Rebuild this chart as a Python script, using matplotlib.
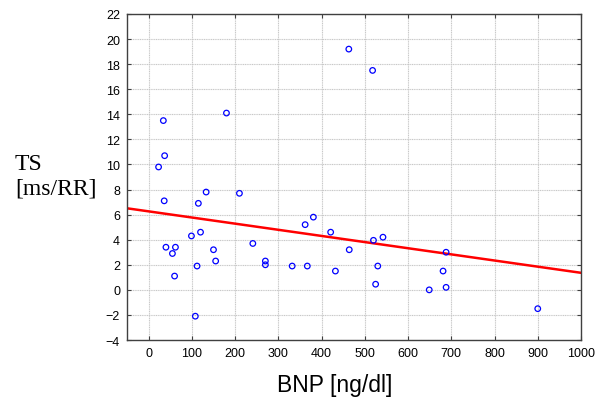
import matplotlib
matplotlib.use("Agg")
import matplotlib.pyplot as plt
import numpy as np

# BNP [ng/dl] vs TS [ms/RR]
bnp = [23, 34, 37, 180, 463, 518, 36, 40, 55, 62, 60, 99, 115, 133, 120, 112,
       108, 150, 155, 210, 241, 270, 270, 332, 367, 362, 381, 421, 432, 464,
       520, 542, 530, 525, 688, 681, 688, 649, 900]
ts = [9.8, 13.5, 10.7, 14.1, 19.2, 17.5, 7.1, 3.4, 2.9, 3.4, 1.1, 4.3, 6.9, 7.8,
      4.6, 1.9, -2.1, 3.2, 2.3, 7.7, 3.7, 2.3, 2.0, 1.9, 1.9, 5.2, 5.8, 4.6, 1.5,
      3.2, 3.95, 4.2, 1.9, 0.45, 3.0, 1.5, 0.2, 0.0, -1.5]

# regression line as drawn in the reference
fit_intercept = 6.26
fit_slope = -0.0049

xticks = np.arange(0, 1001, 100)
yticks = np.arange(-4, 23, 2)

fig = plt.figure(figsize=(6, 4.02), dpi=100)
ax = fig.add_axes([0.2117, 0.1517, 0.7566, 0.811])

ax.set_xlim(-50, 1000)
ax.set_ylim(-4, 22)
ax.set_xticks(xticks)
ax.set_yticks(yticks)
ax.grid(True, color="#c8c8c8", linestyle=(0, (1, 0.6)), linewidth=0.8)
ax.set_axisbelow(True)

xs = np.array([-50, 1000])
ax.plot(xs, fit_intercept + fit_slope * xs, color="#ff0000", linewidth=1.8, zorder=2)
ax.scatter(bnp, ts, s=16, facecolors="none", edgecolors="#0000ff", linewidths=0.9, zorder=3)

for s in ax.spines.values():
    s.set_color("#404040")
    s.set_linewidth(1.0)
ax.tick_params(direction="in", length=3, width=0.8, color="#404040",
               top=True, right=True, labelsize=9, pad=5)
for lab in ax.get_xticklabels() + ax.get_yticklabels():
    lab.set_family("Liberation Sans")

# axis titles placed as free text, like the original
fig.text(0.558, 0.042, "BNP [ng/dl]", fontsize=16.5, family="Liberation Sans",
         ha="center", va="center")
fig.text(0.025, 0.56, "TS\n[ms/RR]", fontsize=17, family="Liberation Serif",
         ha="left", va="center", linespacing=1.2)

fig.savefig("out.png", dpi=100)
